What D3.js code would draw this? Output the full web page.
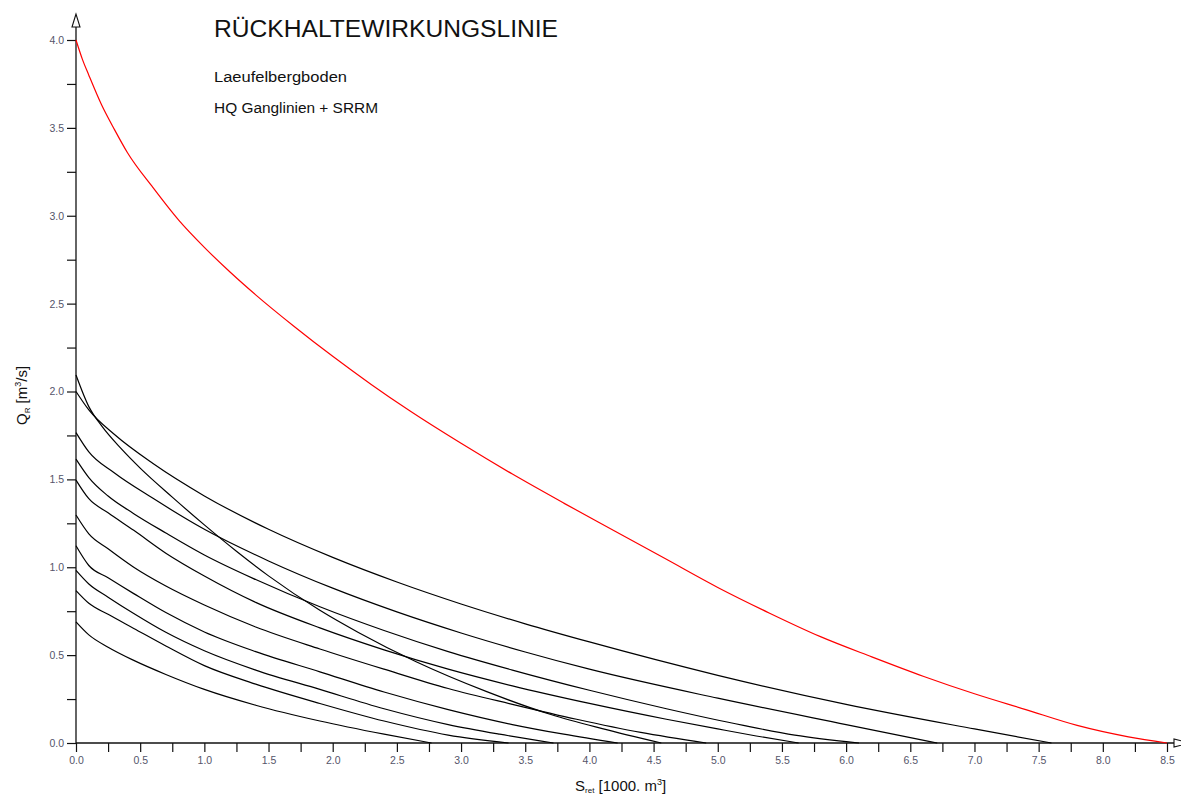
<!DOCTYPE html>
<html>
<head>
<meta charset="utf-8">
<script src="https://cdn.jsdelivr.net/npm/d3@7"></script>
<style>
  html, body { margin: 0; padding: 0; background: #fff; }
  svg { display: block; font-family: "Liberation Sans", Arial, sans-serif; }
</style>
</head>
<body>
<svg id="chart" width="1181" height="797"></svg>
<script>
// ---- Data ----
const titleText = "RÜCKHALTEWIRKUNGSLINIE";
const subtitle1 = "Laeufelbergboden";
const subtitle2 = "HQ Ganglinien + SRRM";

const xTicks = d3.range(0, 8.5001, 0.25);
const yTicks = d3.range(0, 4.0001, 0.25);

// red envelope line
const sRed = [0, 0.05, 0.1, 0.2, 0.3, 0.4, 0.6, 0.8, 1.0, 1.2, 1.4, 1.7, 2.0, 2.3, 2.6, 3.0, 3.4, 3.8, 4.2, 4.6, 5.0, 5.4, 5.8, 6.2, 6.6, 7.0, 7.4, 7.8, 8.2, 8.5];
const qRed = [4.0, 3.89, 3.80, 3.63, 3.49, 3.36, 3.16, 2.975, 2.82, 2.68, 2.55, 2.37, 2.20, 2.04, 1.89, 1.705, 1.53, 1.365, 1.205, 1.045, 0.885, 0.74, 0.605, 0.49, 0.38, 0.28, 0.19, 0.10, 0.035, 0.0];

// black event curves
const sA = [0, 0.1, 0.2, 0.35, 0.5, 0.75, 1.0, 1.25, 1.5, 1.9, 2.2, 2.65, 3.2, 3.7, 4.1, 4.56];
const qA = [2.094, 1.914, 1.804, 1.676, 1.564, 1.399, 1.241, 1.091, 0.951, 0.755, 0.629, 0.462, 0.292, 0.162, 0.082, 0.0];

const sB = [0, 0.1, 0.3, 0.6, 1.0, 1.5, 2.0, 2.5, 3.0, 3.5, 4.0, 5.0, 6.0, 7.0, 7.6];
const qB = [2.0, 1.895, 1.755, 1.59, 1.406, 1.216, 1.056, 0.916, 0.791, 0.678, 0.575, 0.385, 0.22, 0.08, 0.0];

const sC = [0, 0.1, 0.3, 0.6, 1.0, 1.5, 2.0, 2.5, 3.0, 3.5, 4.0, 5.0, 6.0, 6.71];
const qC = [1.766, 1.656, 1.536, 1.392, 1.216, 1.036, 0.881, 0.746, 0.626, 0.518, 0.42, 0.255, 0.105, 0.0];

const sD = [0, 0.1, 0.25, 0.45, 0.7, 1.0, 1.4, 1.9, 2.4, 2.9, 3.4, 4.0, 4.6, 5.2, 5.6, 6.1];
const qD = [1.615, 1.51, 1.405, 1.305, 1.195, 1.07, 0.93, 0.775, 0.64, 0.52, 0.415, 0.30, 0.195, 0.10, 0.045, 0.0];

const sE = [0, 0.1, 0.25, 0.45, 0.7, 1.0, 1.4, 1.9, 2.4, 2.9, 3.4, 4.0, 4.6, 5.0, 5.3, 5.63];
const qE = [1.496, 1.39, 1.31, 1.21, 1.08, 0.95, 0.80, 0.655, 0.53, 0.42, 0.325, 0.225, 0.135, 0.08, 0.04, 0.0];

const sF = [0, 0.1, 0.25, 0.45, 0.7, 1.0, 1.4, 1.9, 2.4, 2.9, 3.4, 3.9, 4.4, 4.91];
const qF = [1.297, 1.19, 1.105, 1.0, 0.893, 0.785, 0.66, 0.535, 0.42, 0.31, 0.22, 0.135, 0.06, 0.0];

const sG = [0, 0.1, 0.25, 0.45, 0.7, 1.0, 1.4, 1.9, 2.4, 2.9, 3.4, 3.8, 4.22];
const qG = [1.122, 1.01, 0.94, 0.85, 0.742, 0.632, 0.52, 0.405, 0.29, 0.19, 0.105, 0.05, 0.0];

const sH = [0, 0.1, 0.25, 0.45, 0.7, 1.0, 1.4, 1.9, 2.4, 2.9, 3.3, 3.72];
const qH = [0.982, 0.905, 0.83, 0.737, 0.63, 0.525, 0.415, 0.305, 0.195, 0.105, 0.05, 0.0];

const sI = [0, 0.1, 0.25, 0.45, 0.7, 1.0, 1.4, 1.9, 2.4, 2.9, 3.37];
const qI = [0.867, 0.795, 0.732, 0.652, 0.552, 0.44, 0.335, 0.225, 0.125, 0.045, 0.0];

const sJ = [0, 0.1, 0.25, 0.45, 0.7, 1.0, 1.4, 1.9, 2.4, 2.77];
const qJ = [0.689, 0.615, 0.545, 0.47, 0.39, 0.305, 0.215, 0.125, 0.05, 0.0];

const blackCurves = [[sA, qA], [sB, qB], [sC, qC], [sD, qD], [sE, qE], [sF, qF], [sG, qG], [sH, qH], [sI, qI], [sJ, qJ]];

// ---- Drawing ----
const svg = d3.select("#chart");
svg.append("rect").attr("width", 1181).attr("height", 797).attr("fill", "#fff");

const x = d3.scaleLinear().domain([0, 8.5]).range([76, 1167]);
const y = d3.scaleLinear().domain([0, 4]).range([743, 40]);

const line = d3.line().x(d => x(d[0])).y(d => y(d[1])).curve(d3.curveMonotoneX);
const toPts = (s, q) => s.map((v, i) => [v, q[i]]);

// axes
const fmt = d => (Math.abs(d * 2 - Math.round(d * 2)) < 1e-6) ? d.toFixed(1) : "";
const yAxis = svg.append("g").attr("transform", `translate(${x(0)},0)`)
  .call(d3.axisLeft(y).tickValues(yTicks).tickFormat(fmt).tickSize(9).tickSizeOuter(0).tickPadding(3));
const xAxis = svg.append("g").attr("transform", `translate(0,${y(0)})`)
  .call(d3.axisBottom(x).tickValues(xTicks).tickFormat(fmt).tickSize(9).tickSizeOuter(0).tickPadding(5));
[yAxis, xAxis].forEach(g => {
  g.select(".domain").remove();
  g.selectAll(".tick line").attr("stroke", "#111").attr("stroke-width", 1.2);
  g.selectAll(".tick text").attr("fill", "#55556a").style("font-size", "10.5px")
    .style("font-family", '"Liberation Sans", Arial, sans-serif');
});

// axis lines with arrows
svg.append("line").attr("x1", x(0)).attr("x2", x(0)).attr("y1", y(0)).attr("y2", 15)
  .attr("stroke", "#111").attr("stroke-width", 1.3);
svg.append("path").attr("d", `M${x(0)},14 L${x(0) - 4},27 L${x(0) + 4},27 Z`)
  .attr("fill", "#fff").attr("stroke", "#111").attr("stroke-width", 1.1);
svg.append("line").attr("x1", x(0)).attr("x2", 1181).attr("y1", y(0)).attr("y2", y(0))
  .attr("stroke", "#111").attr("stroke-width", 1.3);
svg.append("path").attr("d", `M1190,${y(0)} L1174,${y(0) - 4} L1174,${y(0) + 4} Z`)
  .attr("fill", "#fff").attr("stroke", "#111").attr("stroke-width", 1.1);

// curves
svg.append("g").selectAll("path").data(blackCurves).join("path")
  .attr("d", d => line(toPts(d[0], d[1])))
  .attr("fill", "none").attr("stroke", "#000").attr("stroke-width", 1.2);

svg.append("path").attr("d", line(toPts(sRed, qRed)))
  .attr("fill", "none").attr("stroke", "#ff0000").attr("stroke-width", 1.2);

// titles
svg.append("text").attr("x", 214).attr("y", 37).text(titleText)
  .style("font-size", "23px").attr("fill", "#111").attr("textLength", 344).attr("lengthAdjust", "spacingAndGlyphs");
svg.append("text").attr("x", 214).attr("y", 82).text(subtitle1)
  .style("font-size", "14px").attr("fill", "#111").attr("textLength", 133).attr("lengthAdjust", "spacingAndGlyphs");
svg.append("text").attr("x", 214).attr("y", 113).text(subtitle2)
  .style("font-size", "14px").attr("fill", "#111").attr("textLength", 164).attr("lengthAdjust", "spacingAndGlyphs");

// axis titles
const yl = svg.append("text").attr("transform", "translate(27,425) rotate(-90)")
  .style("font-size", "15px").attr("fill", "#111");
yl.append("tspan").text("Q");
yl.append("tspan").text("R").style("font-size", "8px").attr("dy", 3);
yl.append("tspan").text(" [m").attr("dy", -3);
yl.append("tspan").text("3").style("font-size", "9px").attr("dy", -6);
yl.append("tspan").text("/s]").attr("dy", 6);

const xl = svg.append("text").attr("x", 575).attr("y", 791)
  .style("font-size", "15px").attr("fill", "#111");
xl.append("tspan").text("S");
xl.append("tspan").text("ret").style("font-size", "8px").attr("dy", 2);
xl.append("tspan").text(" [1000. m").attr("dy", -2);
xl.append("tspan").text("3").style("font-size", "9px").attr("dy", -6);
xl.append("tspan").text("]").attr("dy", 6);
</script>
</body>
</html>
